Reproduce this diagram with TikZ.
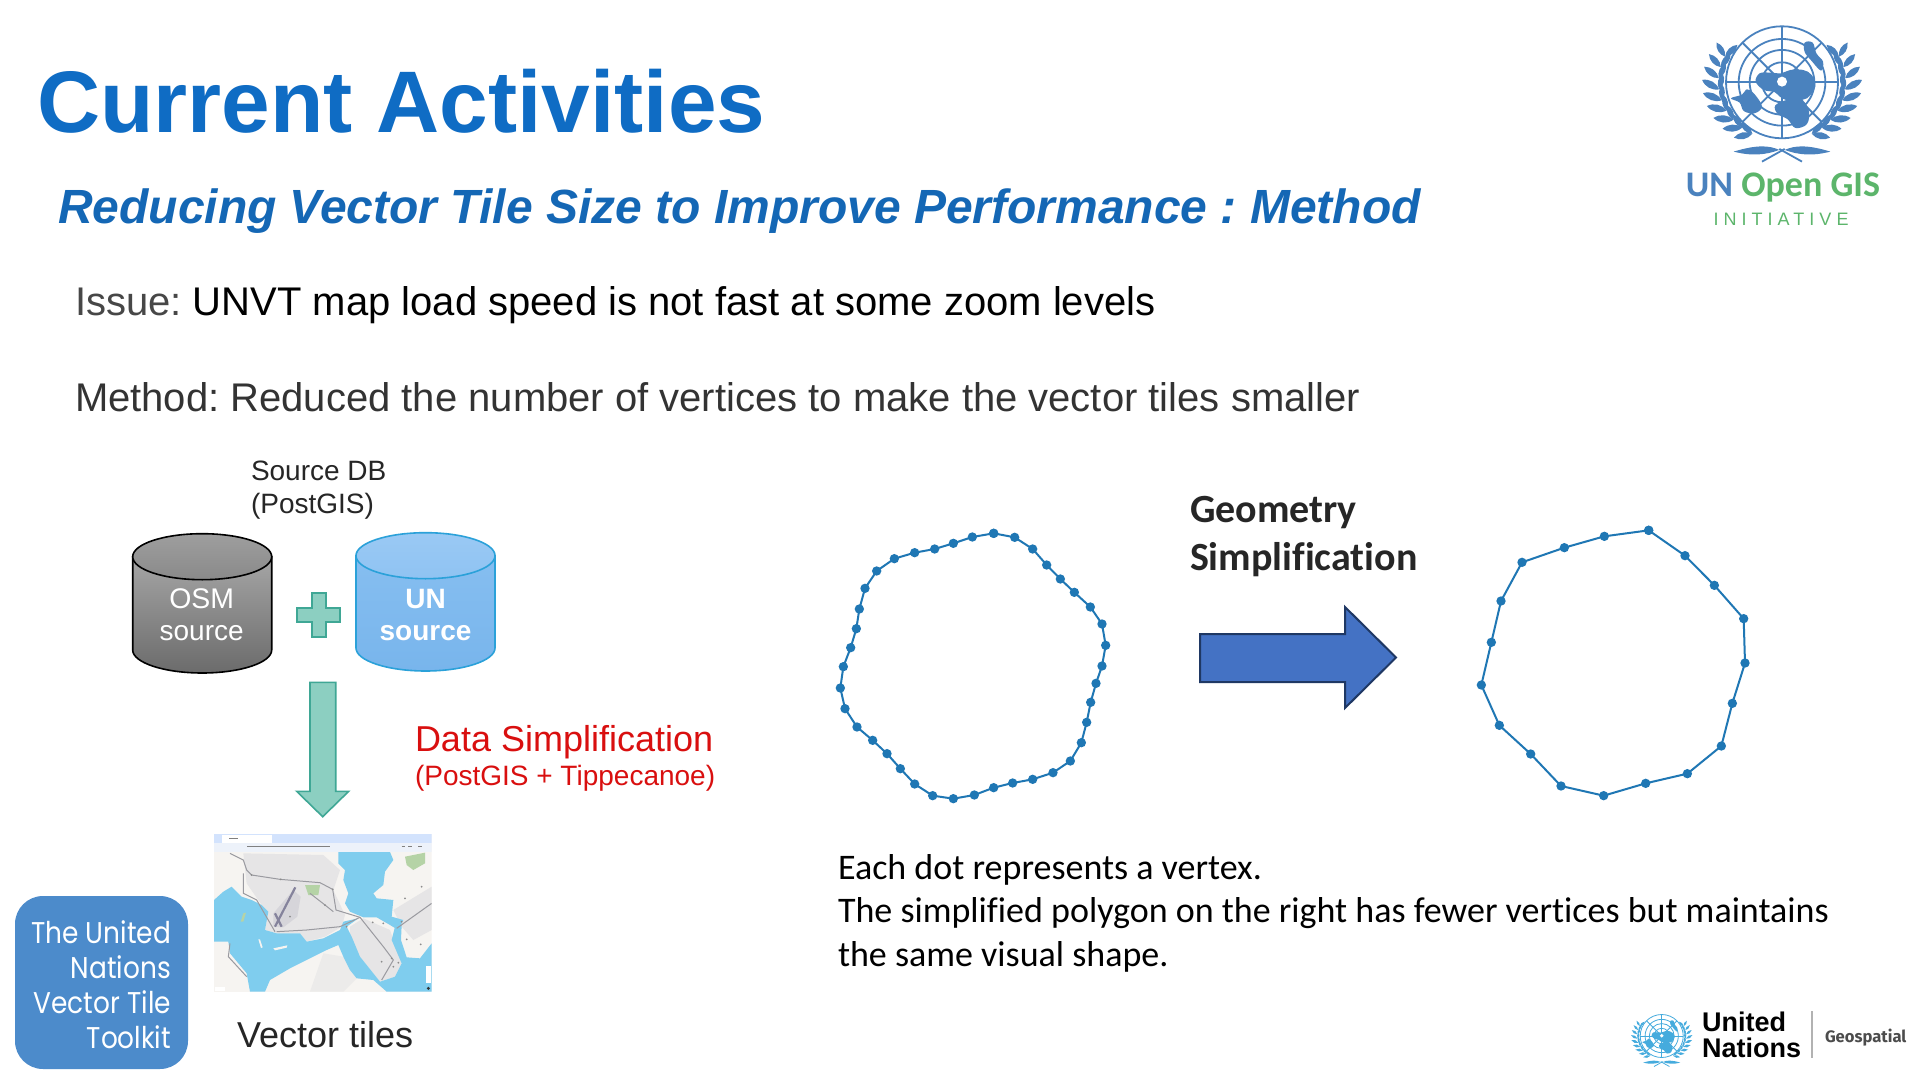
\documentclass[tikz,border=0pt]{standalone}
\usepackage{fontspec}
\setmainfont{Liberation Sans}
\newfontfamily\carlitofont[Ligatures=NoCommon]{Carlito}
\newfontfamily\popfont[FakeStretch=0.88]{Poppins}
\newfontfamily\firafont{Fira Sans}
\definecolor{titleblue}{HTML}{0F6CC4}
\definecolor{subblue}{HTML}{1467B5}
\definecolor{teal1}{HTML}{8CCFC1}
\definecolor{teal2}{HTML}{3FA795}
\definecolor{arrowblue}{HTML}{4472C4}
\definecolor{arrowedge}{HTML}{1F3864}
\definecolor{dotblue}{HTML}{1F77B4}
\definecolor{unblue}{HTML}{4A82BE}
\definecolor{ungreen}{HTML}{5CB56B}
\definecolor{boxblue}{HTML}{4C8BCB}
\definecolor{water}{HTML}{7FCDEE}
\definecolor{landc}{HTML}{F6F4F1}
\definecolor{urban}{HTML}{E6E5E6}
\definecolor{urbancore}{HTML}{D6D5DA}
\definecolor{roadc}{HTML}{9A9AA0}
\definecolor{runway}{HTML}{85839C}
\definecolor{parkc}{HTML}{B5D3A6}
\definecolor{tabbar}{HTML}{D3E3FD}
\definecolor{addrbar}{HTML}{EDF2FA}
\definecolor{darktxt}{HTML}{262626}
\definecolor{redtxt}{HTML}{D90F0F}
\definecolor{cylblueA}{HTML}{9AC9F4}
\definecolor{cylblueB}{HTML}{8FC3F2}
\definecolor{cylblueC}{HTML}{86BEF0}
\definecolor{cylblueD}{HTML}{78B5EC}
\definecolor{cylblueE}{HTML}{2BA1D9}
\definecolor{smallun}{HTML}{45ABDD}
\newcommand{\fsz}[1]{\fontsize{#1}{#1}\selectfont}
% cylinder: cx, rx, centre y of top, centre y of bottom, ry, style side, style top
\newcommand{\mycyl}[7]{%
  \path[#6] ({#1-#2},#3) -- ({#1-#2},#4)
    .. controls ({#1-#2},{#4+0.55*#5}) and ({#1-0.55*#2},{#4+#5}) .. (#1,{#4+#5})
    .. controls ({#1+0.55*#2},{#4+#5}) and ({#1+#2},{#4+0.55*#5}) .. ({#1+#2},#4)
    -- ({#1+#2},#3) -- cycle;
  \path[#7] (#1,#3) ellipse [x radius=#2, y radius=#5];
}
% emblem: centre x, centre y, scale, colour, ring line width
\newcommand{\myemblem}[5]{%
  \begin{scope}[shift={(#1,#2)},scale=#3]
    \foreach \rr in {168,130,97,60} \draw[#4,line width=#5] (0,0) circle [radius=\rr];
    \foreach \aa in {0,45,...,315} \draw[#4,line width=#5] (0,0) -- ({168*cos(\aa)},{168*sin(\aa)});
    \begin{scope}[shift={(-215,-187)}]
      \fill[#4] plot[smooth cycle,tension=0.6] coordinates {(136,185) (148,160) (180,158) (212,160) (240,150) (278,150) (304,165) (315,200) (290,235) (262,240) (232,242) (208,230) (192,216) (160,210)};
      \fill[#4] plot[smooth cycle,tension=0.6] coordinates {(195,256) (235,238) (270,235) (295,270) (290,312) (255,324) (232,298) (202,282)};
      \fill[#4] plot[smooth cycle,tension=0.6] coordinates {(62,235) (95,224) (110,208) (132,222) (155,260) (132,280) (100,273) (88,248)};
      \fill[#4] plot[smooth cycle,tension=0.6] coordinates {(283,68) (307,68) (318,100) (338,125) (332,152) (303,122) (283,96)};
      \fill[white] (215,185) circle [radius=15];
    \end{scope}
    \foreach \sgn in {-1,1} {
      \foreach \t in {118,129,...,216} {
        \fill[#4] ({\sgn*190*cos(\t)},{175*sin(\t)}) to[bend left=38] ({\sgn*240*cos(\t+9)},{208*sin(\t+9)}) to[bend left=38] cycle;
        \fill[#4] ({\sgn*190*cos(\t)},{175*sin(\t)}) to[bend left=38] ({\sgn*180*cos(\t+16)},{168*sin(\t+16)}) to[bend left=38] cycle;
      }
      \draw[#4,line width=#5] ({\sgn*60},238) -- ({\sgn*-8},200);
      \fill[#4] ({\sgn*145},208) .. controls ({\sgn*80},188) and ({\sgn*40},188) .. ({\sgn*8},203) .. controls ({\sgn*50},218) and ({\sgn*90},222) .. cycle;
    }
  \end{scope}
}
\tikzset{
  txt/.style={anchor=base west,inner sep=0pt,outer sep=0pt,text=darktxt,align=left},
  ctxt/.style={anchor=base,inner sep=0pt,outer sep=0pt,text=white},
  rtxt/.style={anchor=base east,inner sep=0pt,outer sep=0pt,text=white},
  tealshape/.style={fill=teal1,draw=teal2,line width=0.8pt,line join=miter},
  osmside/.style={draw=black,line width=0.8pt,top color=black!35,bottom color=black!58},
  osmtop/.style={draw=black,line width=0.8pt,top color=black!38,bottom color=black!46},
  unside/.style={draw=cylblueE,line width=0.8pt,top color=cylblueC,bottom color=cylblueD},
  untop/.style={draw=cylblueE,line width=0.8pt,top color=cylblueA,bottom color=cylblueB},
  polyline/.style={draw=dotblue,line width=1pt,mark=*,mark size=5.4pt,mark options={fill=dotblue,draw=dotblue}},
  roadline/.style={draw=roadc,line width=0.5pt},
}
\frenchspacing
\begin{document}
\begin{tikzpicture}[x=0.5pt,y=-0.5pt]
\useasboundingbox (0,0) rectangle (1920,1080);
\fill[white] (0,0) rectangle (1920,1080);

% headings
\node[txt,text=titleblue,font=\bfseries\fsz{43.7}] (title) at (37,132.5) {Current Activities};
\node[txt,text=subblue,font=\bfseries\itshape\fsz{24}] (subtitle) at (58,224) {Reducing Vector Tile Size to Improve Performance : Method};
\node[txt,text=black,font=\fsz{20}] (issue) at (75,316) {\textcolor{black!72}{Issue:} UNVT map load speed is not fast at some zoom levels};
\node[txt,text=black!80,font=\fsz{20}] (method) at (75,411) {Method: Reduced the number of vertices to make the vector tiles smaller};

% source DB
\node[txt,font=\fsz{14}] (srcA) at (251,480) {Source DB};
\node[txt,font=\fsz{14}] (srcB) at (251,513.5) {(PostGIS)};
\mycyl{202.2}{69.5}{556.7}{650}{23}{osmside}{osmtop}
\mycyl{425.5}{69.5}{555.7}{648}{23}{unside}{untop}
\node[ctxt,font=\fsz{14.2}] (osmA) at (201.7,608.5) {OSM};
\node[ctxt,font=\fsz{14}] (osmB) at (201.7,640.7) {source};
\node[ctxt,font=\bfseries\fsz{14}] (unA) at (425.5,608) {UN};
\node[ctxt,font=\bfseries\fsz{14}] (unB) at (425.5,640.7) {source};
\draw[tealshape] (311.7,593) -- (325.7,593) -- (325.7,607.7) -- (340,607.7) -- (340,622) -- (325.7,622) -- (325.7,636.7) -- (311.7,636.7) -- (311.7,622) -- (296.7,622) -- (296.7,607.7) -- (311.7,607.7) -- cycle;
\draw[tealshape] (310,682.3) -- (335.7,682.3) -- (335.7,791.3) -- (348.7,791.3) -- (322.7,816.7) -- (296.7,791.3) -- (310,791.3) -- cycle;
\node[txt,text=redtxt,font=\fsz{18}] (dataA) at (415,751) {Data Simplification};
\node[txt,text=redtxt,font=\fsz{14}] (dataB) at (415,785) {(PostGIS + Tippecanoe)};

% map screenshot
\begin{scope}[shift={(210,830)},scale=1/3]
  \clip (12,12) rectangle (665,485);
  \fill[landc] (12,12) rectangle (665,485);
  \fill[urban] (100,70) -- (340,75) -- (390,120) -- (370,180) -- (405,255) -- (395,290) -- (345,320) -- (290,335) -- (270,310) -- (200,310) -- (165,300) -- (175,245) -- (155,225) -- (110,160) -- cycle;
  \fill[urbancore] (190,250) -- (250,180) -- (272,200) -- (262,260) -- (220,292) -- (190,290) -- cycle;
  \fill[urban] (460,265) -- (540,300) -- (575,400) -- (555,440) -- (510,455) -- (450,380) -- (420,320) -- (420,290) -- cycle;
  \fill[urban] (550,240) -- (665,170) -- (665,300) -- (610,330) -- (575,290) -- cycle;
  \fill[urban!60!landc] (340,370) -- (400,380) -- (440,445) -- (400,485) -- (300,485) -- cycle;
  \fill[water] (12,210) -- (40,185) -- (65,170) -- (95,200) -- (125,210) -- (155,225) -- (175,245) -- (165,300) -- (200,310) -- (270,310) -- (290,335) -- (340,325) -- (390,300) -- (400,275) -- (445,265) -- (410,290) -- (425,320) -- (450,380) -- (510,455) -- (555,440) -- (575,400) -- (545,330) -- (555,290) -- (575,285) -- (573,330) -- (590,382) -- (630,385) -- (665,340) -- (665,485) -- (530,485) -- (490,450) -- (440,445) -- (420,420) -- (400,380) -- (385,345) -- (350,360) -- (300,385) -- (240,415) -- (180,450) -- (165,485) -- (120,485) -- (110,430) -- (60,370) -- (55,335) -- (12,335) -- cycle;
  \fill[water] (385,66) -- (540,66) -- (550,90) -- (525,125) -- (520,165) -- (490,190) -- (500,205) -- (550,210) -- (545,260) -- (580,270) -- (565,300) -- (540,285) -- (500,262) -- (460,262) -- (420,245) -- (405,220) -- (415,190) -- (400,150) -- (405,120) -- (385,100) -- cycle;
  \fill[landc] (190,355) -- (232,346) -- (230,353) -- (195,361) -- cycle;
  \fill[landc] (145,328) -- (150,328) -- (158,352) -- (153,354) -- cycle;
  \fill[parkc] (585,80) -- (645,68) -- (645,100) -- (610,120) -- (590,105) -- cycle;
  \fill[parkc] (285,165) -- (330,165) -- (325,195) -- (295,195) -- cycle;
  \fill[parkc] (100,250) -- (108,248) -- (100,275) -- (92,275) -- cycle;
  \draw[roadline] (60,70) -- (100,90) -- (110,120) -- (125,135) -- (210,148) -- (330,158) -- (368,178) -- (378,240) -- (450,262) -- (520,350) -- (550,390) -- (515,450);
  \draw[roadline] (100,130) -- (100,190) -- (140,210) -- (195,305);
  \draw[roadline] (300,190) -- (345,225) -- (370,245);
  \draw[roadline] (560,295) -- (665,220);
  \draw[roadline] (200,305) -- (290,300) -- (390,290) -- (450,262);
  \draw[roadline] (60,340) -- (55,380) -- (110,440);
  \draw[runway,line width=1.1pt] (256,172) -- (195,290);
  \draw[runway,line width=1.1pt] (195,250) -- (215,290);
  \fill[black!45] (125,135) circle [radius=3] (212,148) circle [radius=3] (345,225) circle [radius=3] (240,260) circle [radius=3] (368,178) circle [radius=3] (488,277) circle [radius=3] (520,280) circle [radius=3] (585,205) circle [radius=3] (635,170) circle [radius=3] (575,275) circle [radius=3] (590,328) circle [radius=3] (632,343) circle [radius=3] (545,385) circle [radius=3] (565,398) circle [radius=3] (515,395) circle [radius=3] (550,410) circle [radius=3] (410,290) circle [radius=3];
  \fill[tabbar] (12,12) rectangle (665,38);
  \fill[white] (36,15) rectangle (185,38);
  \fill[addrbar] (12,38) rectangle (665,66);
  \draw[gray,line width=0.5pt] (112,50) -- (360,50);
  \draw[gray,line width=0.5pt] (58,24) -- (85,24) (575,50) -- (585,50) (595,50) -- (605,50) (625,50) -- (635,50);
  \fill[white] (647,408) rectangle (662,460);
  \fill[black!80] (655,475) circle [radius=5];
  \fill[white] (15,470) rectangle (45,483);
\end{scope}
\node[txt,font=\fsz{18}] (vtiles) at (237,1047) {Vector tiles};

% toolkit badge
\fill[boxblue,rounded corners=14pt] (15,896) rectangle (188,1069);
\node[rtxt,font=\popfont\fsz{15}] (tkA) at (171,943) {The United};
\node[rtxt,font=\popfont\fsz{15}] (tkB) at (171,978) {Nations};
\node[rtxt,font=\popfont\fsz{15}] (tkC) at (171,1013) {Vector Tile};
\node[rtxt,font=\popfont\fsz{15}] (tkD) at (171,1048) {Toolkit};

% left polygon
\begin{scope}[shift={(820,510)},scale=1/3]
\draw[polyline] plot coordinates {(521,70) (584,82) (638,117) (680,165) (721,207) (763,247) (811,291) (846,342) (857,406) (846,468) (828,520) (812,577) (800,637) (784,698) (751,753) (699,788) (638,808) (578,819) (521,833) (463,855) (400,866) (338,857) (284,822) (241,776) (201,731) (158,691) (111,651) (75,596) (61,534) (70,470) (92,413) (109,356) (118,297) (135,235) (170,183) (223,146) (284,128) (344,117) (400,100) (457,81) (521,70)};
\end{scope}
% right polygon
\begin{scope}[shift={(1460,510)},scale=1/3]
\draw[polyline] plot coordinates {(566,61) (675,137) (763,226) (851,326) (855,459) (817,580) (784,708) (682,791) (557,820) (431,857) (303,828) (212,732) (118,646) (64,525) (94,397) (123,273) (186,157) (313,113) (433,79) (566,61)};
\end{scope}

% geometry arrow
\draw[fill=arrowblue,draw=arrowedge,line width=1pt] (1200,634) -- (1345,634) -- (1345,607) -- (1396,657.5) -- (1345,708) -- (1345,682) -- (1200,682) -- cycle;
\node[txt,font=\carlitofont\bfseries\fsz{20}] (geoA) at (1190,522) {Geometry};
\node[txt,font=\carlitofont\bfseries\fsz{20}] (geoB) at (1190,570) {Simplification};

% caption
\node[txt,text=black,font=\carlitofont\fsz{18}] (capA) at (838,879) {Each dot represents a vertex.};
\node[txt,text=black,font=\carlitofont\fsz{18}] (capB) at (838,922) {The simplified polygon on the right has fewer vertices but maintains};
\node[txt,text=black,font=\carlitofont\fsz{18}] (capC) at (838,966) {the same visual shape.};

% UN Open GIS logo
\myemblem{1782}{82.3}{1/3}{unblue}{0.9pt}
\node[anchor=base,inner sep=0pt,font=\carlitofont\bfseries\fsz{18}] (ungis) at (1783,197) {\textcolor{unblue}{UN} \textcolor{ungreen}{Open GIS}};
\node[anchor=base,inner sep=0pt,text=ungreen,font=\fsz{9}\addfontfeature{LetterSpace=28}] (uninit) at (1781,226) {INITIATIVE};

% United Nations logo
\myemblem{1661.7}{1036}{0.128}{smallun}{0.4pt}
\node[txt,text=black,font=\bfseries\fsz{13.5}] (unA2) at (1702,1031) {United};
\node[txt,text=black,font=\bfseries\fsz{13.5}] (unB2) at (1702,1057) {Nations};
\draw[gray!60,line width=0.7pt] (1812,1011) -- (1812,1058);
\node[txt,text=black!70,font=\firafont\bfseries\fsz{8.3}] (geosp) at (1825,1042) {Geospatial};
\end{tikzpicture}
\end{document}
